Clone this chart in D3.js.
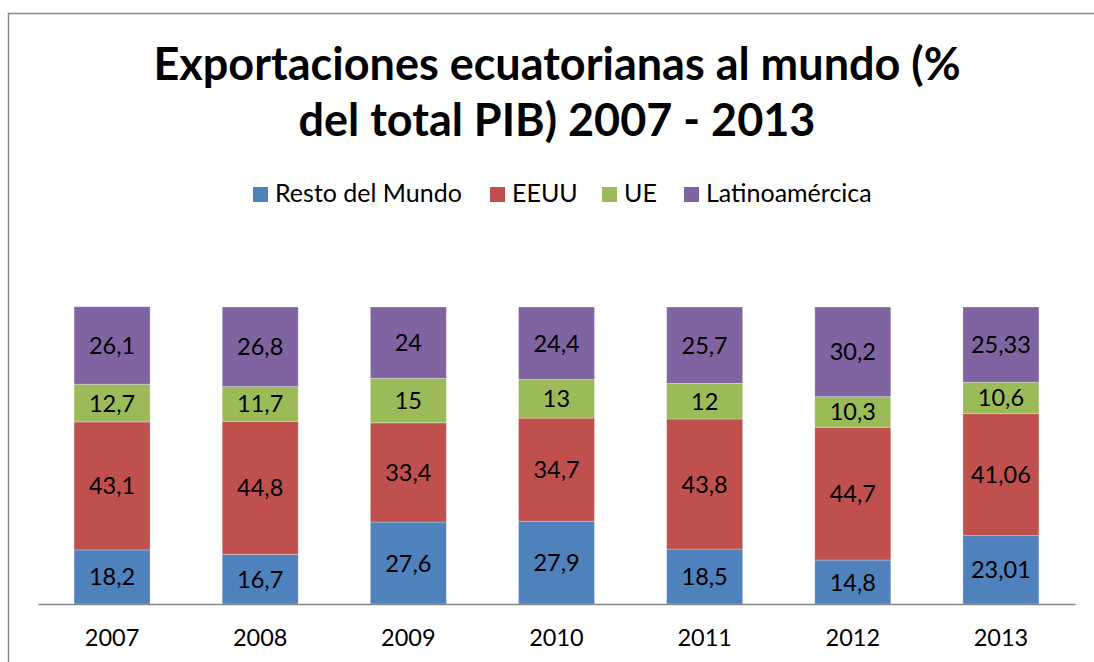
<!DOCTYPE html>
<html>
<head>
<meta charset="utf-8">
<script src="https://cdn.jsdelivr.net/npm/d3@7"></script>
<style>
  body { margin: 0; background: #fff; }
  text { font-family: Lato, "Open Sans", sans-serif; fill: #000; }
</style>
</head>
<body>
<script>
// data
var years = ['2007', '2008', '2009', '2010', '2011', '2012', '2013']
var series = ['Resto del Mundo', 'EEUU', 'UE', 'Latinoamércica']
var restoDelMundo = [18.2, 16.7, 27.6, 27.9, 18.5, 14.8, 23.01]
var eeuu = [43.1, 44.8, 33.4, 34.7, 43.8, 44.7, 41.06]
var ue = [12.7, 11.7, 15, 13, 12, 10.3, 10.6]
var latam = [26.1, 26.8, 24, 24.4, 25.7, 30.2, 25.33]
var colors = ['#4F81BD', '#C0504D', '#9BBB59', '#8064A2']

var width = 1094
var height = 662

var svg = d3.select('body').append('svg').attr('width', width).attr('height', height)

// chart border (only top & left visible in picture)
svg.append('rect').attr('x', 8.5).attr('y', 13.5).attr('width', 1200).attr('height', 800)
    .attr('fill', 'none').attr('stroke', '#888').attr('stroke-width', 1.5)

// title
var title = svg.append('text').attr('text-anchor', 'middle').attr('font-weight', 'bold').attr('font-size', 45)
title.append('tspan').attr('x', 557).attr('y', 80).text('Exportaciones ecuatorianas al mundo (%')
title.append('tspan').attr('x', 557).attr('y', 136).text('del total PIB) 2007 - 2013')

// legend
var legendX = [253, 490, 602, 684]
var legend = svg.selectAll('.legend').data(series).enter().append('g')
    .attr('transform', (d, i) => 'translate(' + legendX[i] + ',187)')
legend.append('rect').attr('width', 15).attr('height', 15).attr('fill', (d, i) => colors[i])
legend.append('text').attr('x', 22).attr('y', 15).attr('font-size', 25).text(d => d)

// stacked data
var table = years.map((y, i) => ({
    year: y,
    'Resto del Mundo': restoDelMundo[i],
    'EEUU': eeuu[i],
    'UE': ue[i],
    'Latinoamércica': latam[i]
}))
var stacked = d3.stack().keys(series)(table)

var x = d3.scaleBand().domain(years).range([38, 1075]).paddingInner(0.487).paddingOuter(0.2435)
var y = d3.scaleLinear().domain([0, 100]).range([604, 307])

var layers = svg.selectAll('.layer').data(stacked).enter().append('g')
    .attr('fill', (d, i) => colors[i])

layers.selectAll('rect').data(d => d).enter().append('rect')
    .attr('x', d => x(d.data.year))
    .attr('y', d => y(d[1]))
    .attr('width', x.bandwidth())
    .attr('height', d => y(d[0]) - y(d[1]))
    .attr('stroke', 'rgba(255,255,255,0.35)').attr('stroke-width', 0.8)

layers.selectAll('text').data(d => d).enter().append('text')
    .attr('x', d => x(d.data.year) + x.bandwidth() / 2)
    .attr('y', d => (y(d[0]) + y(d[1])) / 2 + 8.5)
    .attr('text-anchor', 'middle').attr('font-size', 23.5)
    .text(d => String(+(d[1] - d[0]).toFixed(2)).replace('.', ','))

// axis
var axis = d3.axisBottom(x).tickSize(0).tickPadding(25)
var gx = svg.append('g').attr('transform', 'translate(0,604)').call(axis)
gx.select('.domain').attr('stroke', '#868686').attr('stroke-width', 1.5)
gx.selectAll('text').attr('font-size', 23.5).attr('font-family', 'Lato, sans-serif').attr('fill', '#000')
</script>
</body>
</html>
